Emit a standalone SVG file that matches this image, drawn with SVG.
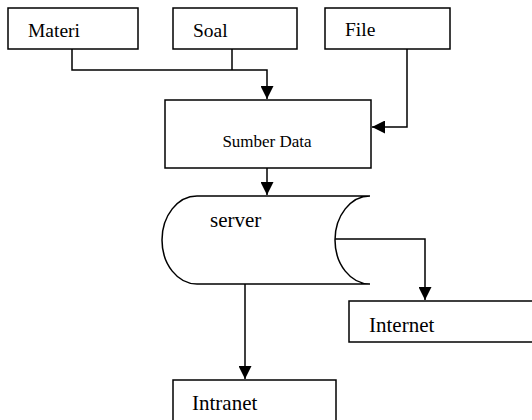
<svg xmlns="http://www.w3.org/2000/svg" width="532" height="420" viewBox="0 0 532 420">
  <style>
    .box { fill: #ffffff; stroke: #000000; stroke-width: 1.5; }
    .wire { fill: none; stroke: #000000; stroke-width: 1.5; }
    .lbl { font-family: "Liberation Serif", "Times New Roman", serif; fill: #000000; }
    .big { font-size: 21px; }
    .mid { font-size: 19.5px; }
    .small { font-size: 17px; }
  </style>
  <defs>
    <marker id="arrow" markerUnits="userSpaceOnUse" markerWidth="14" markerHeight="13" refX="13" refY="6.5" orient="auto">
      <path d="M0,0 L13,6.5 L0,13 z" fill="#000000"/>
    </marker>
  </defs>
  <rect width="532" height="420" fill="#ffffff"/>

  <!-- connectors -->
  <g id="connectors">
    <path class="wire" d="M72,49 V70 H267 V99" marker-end="url(#arrow)"/>
    <path class="wire" d="M232,49 V70"/>
    <path class="wire" d="M407,49 V127 H372" marker-end="url(#arrow)"/>
    <path class="wire" d="M267,168 V195" marker-end="url(#arrow)"/>
    <path class="wire" d="M335,239 H425 V300" marker-end="url(#arrow)"/>
    <path class="wire" d="M245,284 V379" marker-end="url(#arrow)"/>
  </g>

  <!-- sources -->
  <g id="materi">
    <rect class="box" x="8" y="8" width="130" height="41"/>
    <text class="lbl mid" x="28" y="37">Materi</text>
  </g>
  <g id="soal">
    <rect class="box" x="173" y="8" width="124" height="41"/>
    <text class="lbl mid" x="193" y="37">Soal</text>
  </g>
  <g id="file">
    <rect class="box" x="325" y="8" width="125" height="41"/>
    <text class="lbl mid" x="345" y="36">File</text>
  </g>

  <g id="sumber-data">
    <rect class="box" x="165" y="100" width="206" height="68"/>
    <text class="lbl small" x="267" y="147" text-anchor="middle">Sumber Data</text>
  </g>

  <!-- stored data symbol -->
  <g id="server">
    <path class="box" d="M197,196 L370,196 A35,44 0 0 0 370,284 L197,284 A35,44 0 0 1 197,196 Z"/>
    <text class="lbl big" x="210" y="227">server</text>
  </g>

  <g id="internet">
    <rect class="box" x="349" y="301" width="200" height="41"/>
    <text class="lbl big" x="369" y="332">Internet</text>
  </g>

  <g id="intranet">
    <rect class="box" x="173" y="380" width="163" height="50"/>
    <text class="lbl big" x="192" y="410">Intranet</text>
  </g>
</svg>
